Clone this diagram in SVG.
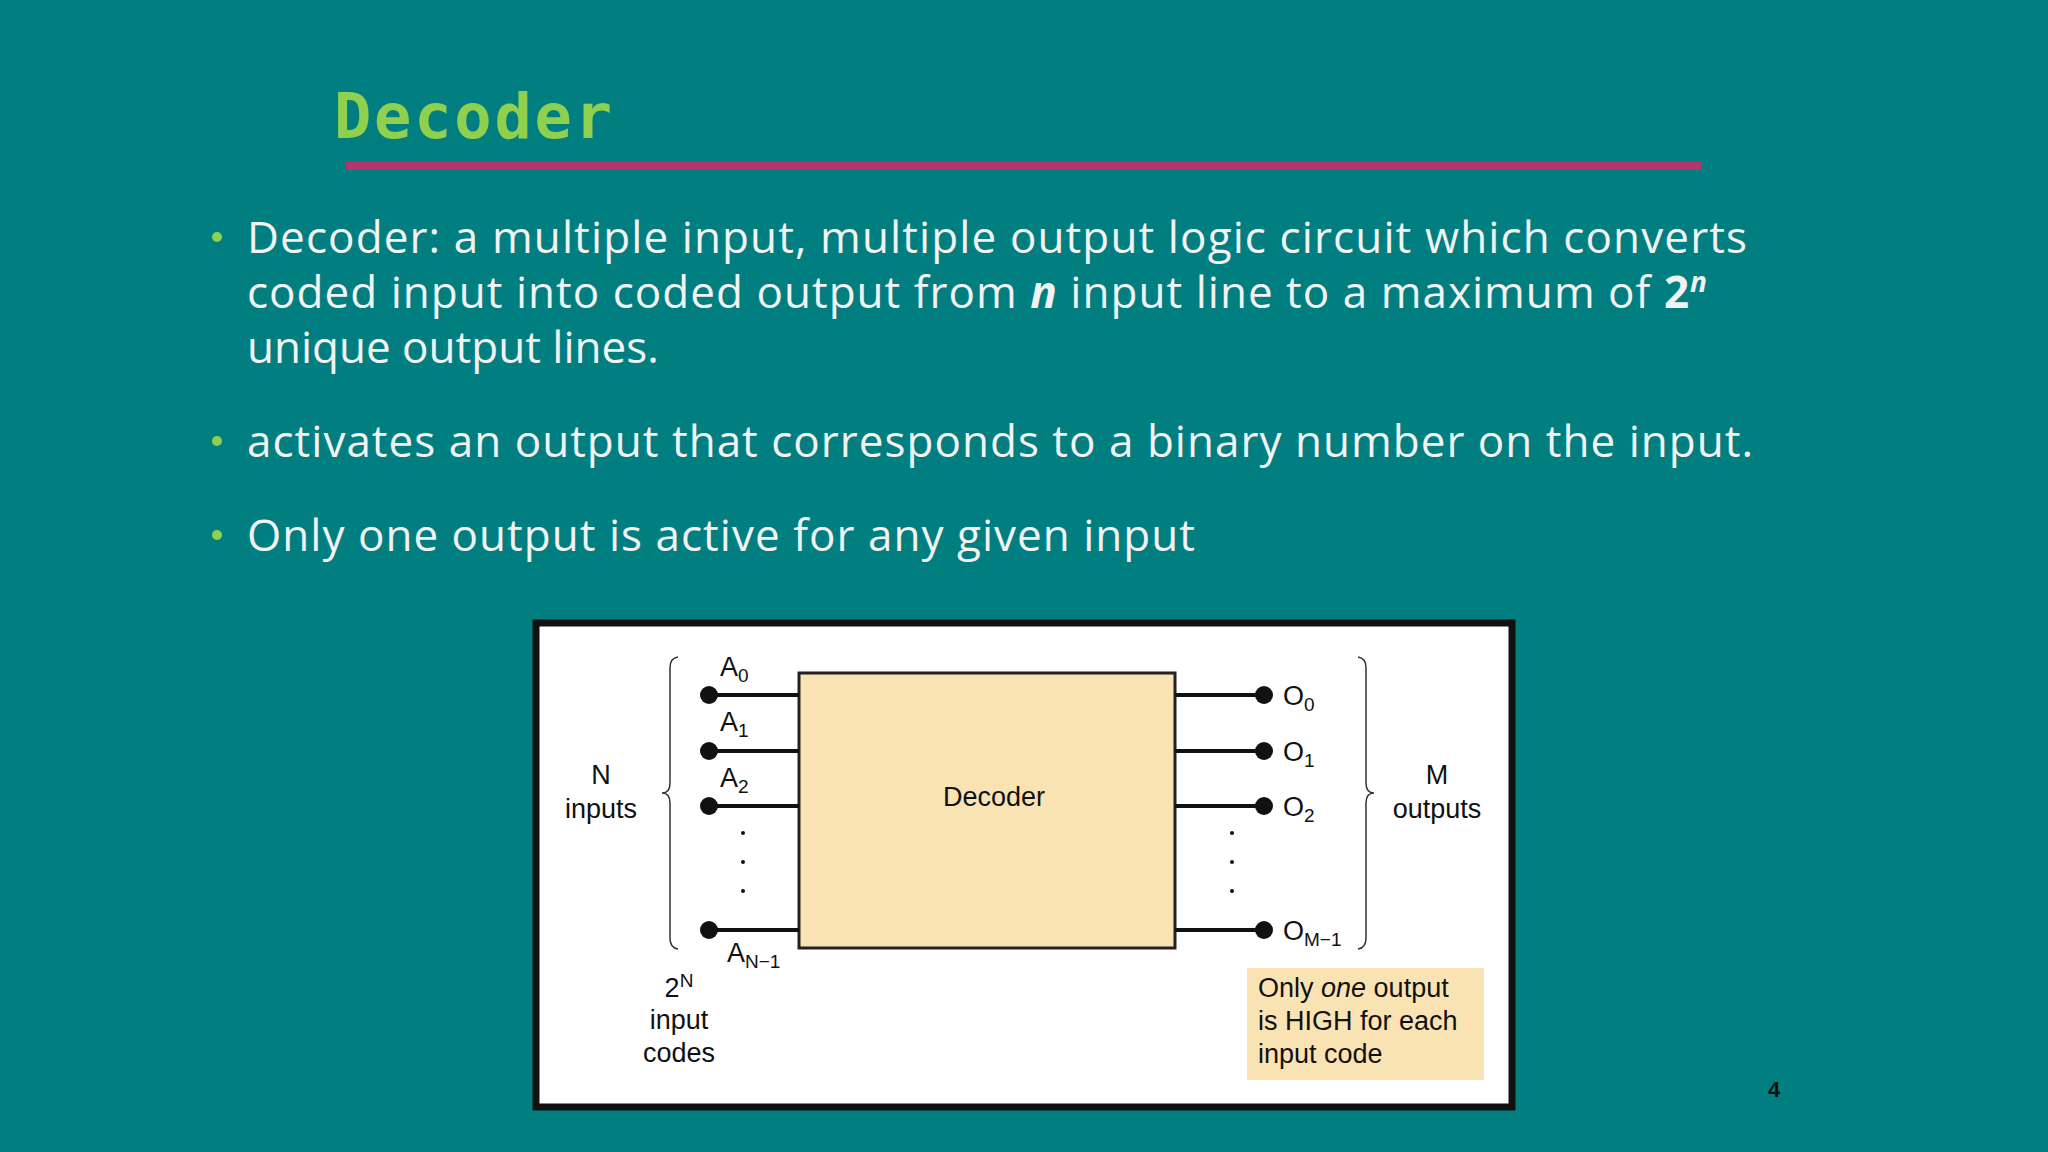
<svg xmlns="http://www.w3.org/2000/svg" width="2048" height="1152" viewBox="0 0 2048 1152">
<style>
.b{font-family:"Open Sans",sans-serif;font-size:44px;fill:#f2f2f2}
.d{fill:#8fd14f}
.t{font-family:"Liberation Sans",Arial,sans-serif;font-size:27px;fill:#111}
.s{font-size:19px}
.w{stroke:#111;stroke-width:4;fill:none}
</style>
<rect width="2048" height="1152" fill="#017f80"/>
<text x="334" y="138" font-family="'DejaVu Sans Mono',monospace" font-weight="bold" font-size="62" fill="#8fd14f" textLength="278">Decoder</text>
<rect x="346" y="162" width="1356" height="8" fill="#b3336b"/>
<g id="bullets">
<circle class="d" cx="217" cy="237" r="5"/>
<text class="b" x="247" y="253" textLength="1500">Decoder: a multiple input, multiple output logic circuit which converts</text>
<text class="b" x="247" y="308" textLength="1460">coded input into coded output from <tspan font-weight="bold" font-style="italic">n</tspan> input line to a maximum of <tspan font-weight="bold">2<tspan font-size="28" dy="-16" font-style="italic">n</tspan></tspan></text>
<text class="b" x="247" y="363">unique output lines.</text>
<circle class="d" cx="217" cy="441" r="5"/>
<text class="b" x="247" y="457" textLength="1506">activates an output that corresponds to a binary number on the input.</text>
<circle class="d" cx="217" cy="535" r="5"/>
<text class="b" x="247" y="551" textLength="948">Only one output is active for any given input</text>
</g>
<rect x="536" y="623" width="976" height="484" fill="#fff" stroke="#111" stroke-width="7"/>
<g id="decoder"><rect x="799" y="673" width="376" height="275" fill="#fae3b3" stroke="#222" stroke-width="3"/>
<text class="t" x="994" y="806" text-anchor="middle">Decoder</text></g>
<g id="connectors">
<path class="w" d="M709 695H799M709 751H799M709 806H799M709 930H799M1175 695H1264M1175 751H1264M1175 806H1264M1175 930H1264"/>
<g fill="#111"><circle cx="709" cy="695" r="9"/><circle cx="709" cy="751" r="9"/><circle cx="709" cy="806" r="9"/><circle cx="709" cy="930" r="9"/>
<circle cx="1264" cy="695" r="9"/><circle cx="1264" cy="751" r="9"/><circle cx="1264" cy="806" r="9"/><circle cx="1264" cy="930" r="9"/>
<circle cx="743" cy="833" r="2"/><circle cx="743" cy="862" r="2"/><circle cx="743" cy="891" r="2"/>
<circle cx="1232" cy="833" r="2"/><circle cx="1232" cy="862" r="2"/><circle cx="1232" cy="891" r="2"/></g>
<path d="M678 657Q670 658 670 668V783Q670 793 662 793Q670 793 670 803V938Q670 948 678 949" fill="none" stroke="#333" stroke-width="1.5"/>
<path d="M1358 657Q1366 658 1366 668V783Q1366 793 1374 793Q1366 793 1366 803V938Q1366 948 1358 949" fill="none" stroke="#333" stroke-width="1.5"/>
</g>
<g id="labels" class="t">
<text class="t" x="720" y="676">A<tspan class="s" dy="6">0</tspan></text>
<text class="t" x="720" y="731">A<tspan class="s" dy="6">1</tspan></text>
<text class="t" x="720" y="787">A<tspan class="s" dy="6">2</tspan></text>
<text class="t" x="727" y="962">A<tspan class="s" dy="6">N−1</tspan></text>
<text class="t" x="1283" y="705">O<tspan class="s" dy="6">0</tspan></text>
<text class="t" x="1283" y="761">O<tspan class="s" dy="6">1</tspan></text>
<text class="t" x="1283" y="816">O<tspan class="s" dy="6">2</tspan></text>
<text class="t" x="1283" y="940">O<tspan class="s" dy="6">M−1</tspan></text>
<text class="t" x="601" y="784" text-anchor="middle">N</text>
<text class="t" x="601" y="818" text-anchor="middle">inputs</text>
<text class="t" x="1437" y="784" text-anchor="middle">M</text>
<text class="t" x="1437" y="818" text-anchor="middle">outputs</text>
<text class="t" x="679" y="997" text-anchor="middle">2<tspan class="s" dy="-10">N</tspan></text>
<text class="t" x="679" y="1029" text-anchor="middle">input</text>
<text class="t" x="679" y="1062" text-anchor="middle">codes</text>
</g>
<g id="note"><rect x="1247" y="968" width="237" height="112" fill="#fae3b3"/>
<text class="t" x="1258" y="997">Only <tspan font-style="italic">one</tspan> output</text>
<text class="t" x="1258" y="1030">is HIGH for each</text>
<text class="t" x="1258" y="1063">input code</text></g>
<text x="1768" y="1097" font-family="'Liberation Sans',sans-serif" font-weight="bold" font-size="22" fill="#111">4</text>
</svg>
